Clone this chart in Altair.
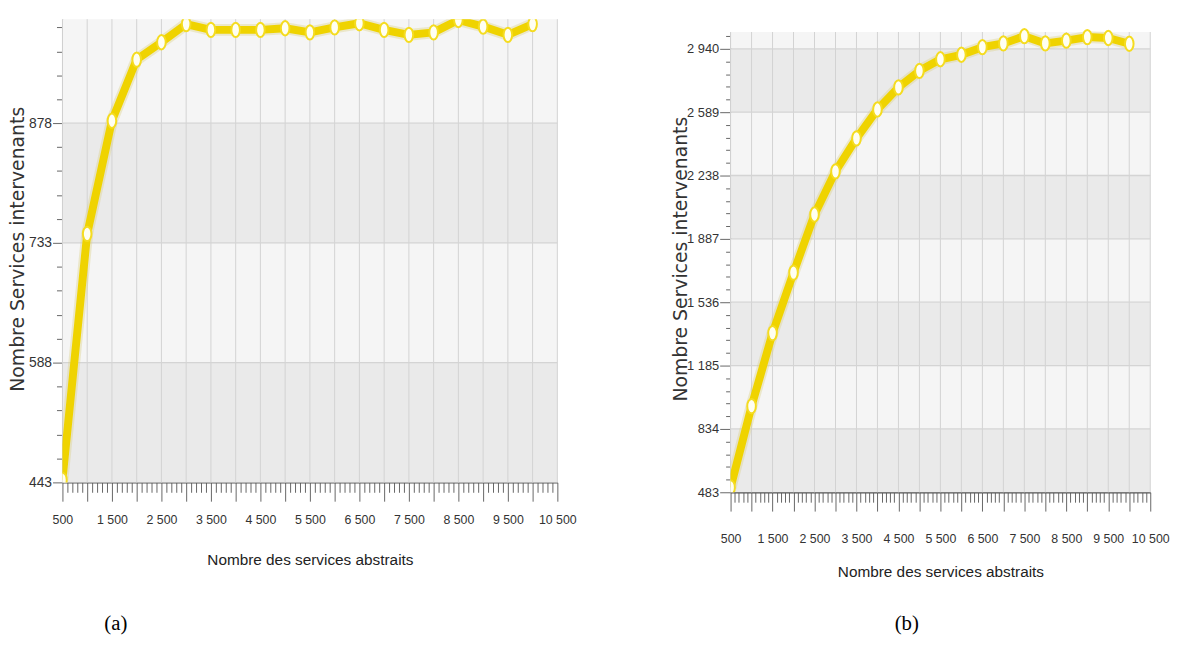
import altair as alt
import pandas as pd

# ---------------- data ----------------
x_vals = [500, 1000, 1500, 2000, 2500, 3000, 3500, 4000, 4500, 5000,
          5500, 6000, 6500, 7000, 7500, 8000, 8500, 9000, 9500, 10000]
left_vals = [446, 744, 881, 955, 976, 998, 991, 991, 991, 993,
             988, 994, 999, 991, 985, 988, 1003, 995, 985, 998]
right_vals = [510, 960, 1365, 1700, 2022, 2261, 2444, 2604, 2726, 2818,
              2882, 2907, 2949, 2970, 3010, 2970, 2985, 3005, 3000, 2968]

x_major = [500, 1000, 1500, 2000, 2500, 3000, 3500, 4000, 4500, 5000, 5500,
           6000, 6500, 7000, 7500, 8000, 8500, 9000, 9500, 10000, 10500]
left_y_major = [443, 588, 733, 878]
right_y_major = [483, 834, 1185, 1536, 1887, 2238, 2589, 2940]

left_domain = [443, 1004]
right_domain = [483, 3033]

y_title = "Nombre Services intervenants"
x_title = "Nombre des services abstraits"
captions = ["(a)", "(b)"]

SANS = "Liberation Sans"
YELLOW = "#EFD300"
ELLIPSE = "M0,-1 A0.6,1 0 1,1 0,1 A0.6,1 0 1,1 0,-1 Z"


def panel(vals, y_major, domain, width, height, top, caption, cap_x, cap_y,
          ytitle_x, ytitle_y, xtitle_y, xlab_pad, ylab_size, ymaj_tick, ymin_tick):
    step = y_major[1] - y_major[0]
    minor = step / 5.0
    y_ticks = []
    v = y_major[0]
    while v <= domain[1] + 1e-6:
        y_ticks.append(round(v, 3))
        v += minor
    x_ticks = list(range(500, 10501, 100))

    base = y_major[0]
    is_major_y = f"abs(((datum.value - {base}) / {step}) - round((datum.value - {base}) / {step})) < 0.001"

    xscale = alt.Scale(domain=[500, 10500], nice=False, zero=False)
    yscale = alt.Scale(domain=domain, nice=False, zero=False, range=[height, top])

    xaxis = alt.Axis(
        values=x_ticks, title=x_title, grid=False,
        labelExpr="datum.value % 1000 == 500 ? replace(format(datum.value, ','), ',', ' ') : ''",
        labelOverlap=False, labelFlush=False,
        tickSize={"condition": {"test": "datum.value % 500 == 0", "value": 19}, "value": 10},
        tickColor="#666", tickWidth=1, domainColor="#555", domainWidth=1.5,
        labelFont=SANS, labelFontSize=12.5, labelColor="#333", labelPadding=xlab_pad,
        labelBaseline="middle",
        titleFont=SANS, titleFontSize=15.5, titleColor="#222", titleFontWeight="normal",
        titleY=xtitle_y, titleBaseline="middle",
    )
    yaxis = alt.Axis(
        values=y_ticks, title=y_title, grid=False,
        labelExpr=f"{is_major_y} ? replace(format(datum.value, ',.0f'), ',', ' ') : ''",
        labelOverlap=False, labelFlush=False,
        tickSize={"condition": {"test": is_major_y, "value": ymaj_tick}, "value": ymin_tick},
        tickColor="#666", tickWidth=1, domainColor="#555", domainWidth=1.5,
        labelFont=SANS, labelFontSize=ylab_size, labelColor="#333", labelPadding=1,
        titleFont="DejaVu Sans", titleFontSize=19, titleColor="#333", titleFontWeight="normal",
        titleX=ytitle_x, titleY=ytitle_y, titleAngle=270, titleBaseline="middle",
        titleAlign="center",
    )

    edges = list(y_major) + [domain[1]]
    bands = pd.DataFrame({
        "y0": edges[:-1], "y1": edges[1:],
        "shade": ["d" if i % 2 == 0 else "l" for i in range(len(edges) - 1)],
    })
    df = pd.DataFrame({"x": x_vals, "y": vals})
    vgrid = pd.DataFrame({"x": x_major, "y0": [domain[0]] * len(x_major), "y1": [domain[1]] * len(x_major)})
    hgrid = pd.DataFrame({"y": y_major[1:]})
    cap = pd.DataFrame({"t": [caption]})

    rect = alt.Chart(bands).mark_rect().encode(
        x=alt.value(0), x2=alt.value(width),
        y=alt.Y("y0:Q", scale=yscale, axis=yaxis), y2="y1:Q",
        color=alt.Color("shade:N", scale=alt.Scale(domain=["d", "l"], range=["#eaeaea", "#f5f5f5"]), legend=None),
    )
    vg = alt.Chart(vgrid).mark_rule(color="#d2d2d2", strokeWidth=1).encode(
        x=alt.X("x:Q", scale=xscale, axis=xaxis),
        y=alt.Y("y0:Q", scale=yscale, axis=yaxis), y2="y1:Q",
    )
    hg = alt.Chart(hgrid).mark_rule(color="#d4d4d4", strokeWidth=1.3).encode(
        x=alt.value(0), x2=alt.value(width),
        y=alt.Y("y:Q", scale=yscale, axis=yaxis),
    )
    enc = dict(x=alt.X("x:Q", scale=xscale, axis=xaxis), y=alt.Y("y:Q", scale=yscale, axis=yaxis))
    glow = alt.Chart(df).mark_line(color="#D9CF7A", strokeWidth=12, opacity=0.35, clip=True,
                                   strokeJoin="round").encode(**enc)
    line = alt.Chart(df).mark_line(color=YELLOW, strokeWidth=8, clip=True,
                                   strokeJoin="round").encode(**enc)
    pts = alt.Chart(df).mark_point(shape=ELLIPSE, filled=True, fill="#FFFFF2", stroke="#F5DC20",
                                   strokeWidth=2, size=210, opacity=1, clip=True).encode(**enc)
    captxt = alt.Chart(cap).mark_text(font="Liberation Serif", fontSize=21, color="#000",
                                      baseline="middle", align="center").encode(
        text="t:N", x=alt.value(cap_x), y=alt.value(cap_y))

    return alt.layer(rect, vg, hg, glow, line, pts, captxt).properties(width=width, height=height)


left = panel(left_vals, left_y_major, left_domain, 500, 468, 0, captions[0], 54, 611,
             -45, 232, 78, 19, 14, 10, 6)
right = panel(right_vals, right_y_major, right_domain, 424, 478, 13, captions[1], 178, 611,
              -51, 242, 80, 28, 13, 11, 5)

chart = alt.hconcat(left, right, spacing=175, bounds="flush").properties(
    padding={"left": 0, "top": 7, "right": 5, "bottom": 5},
    background="white",
).configure_view(stroke=None)

chart.save("out.html", embed_options={"renderer": "svg", "actions": False})
